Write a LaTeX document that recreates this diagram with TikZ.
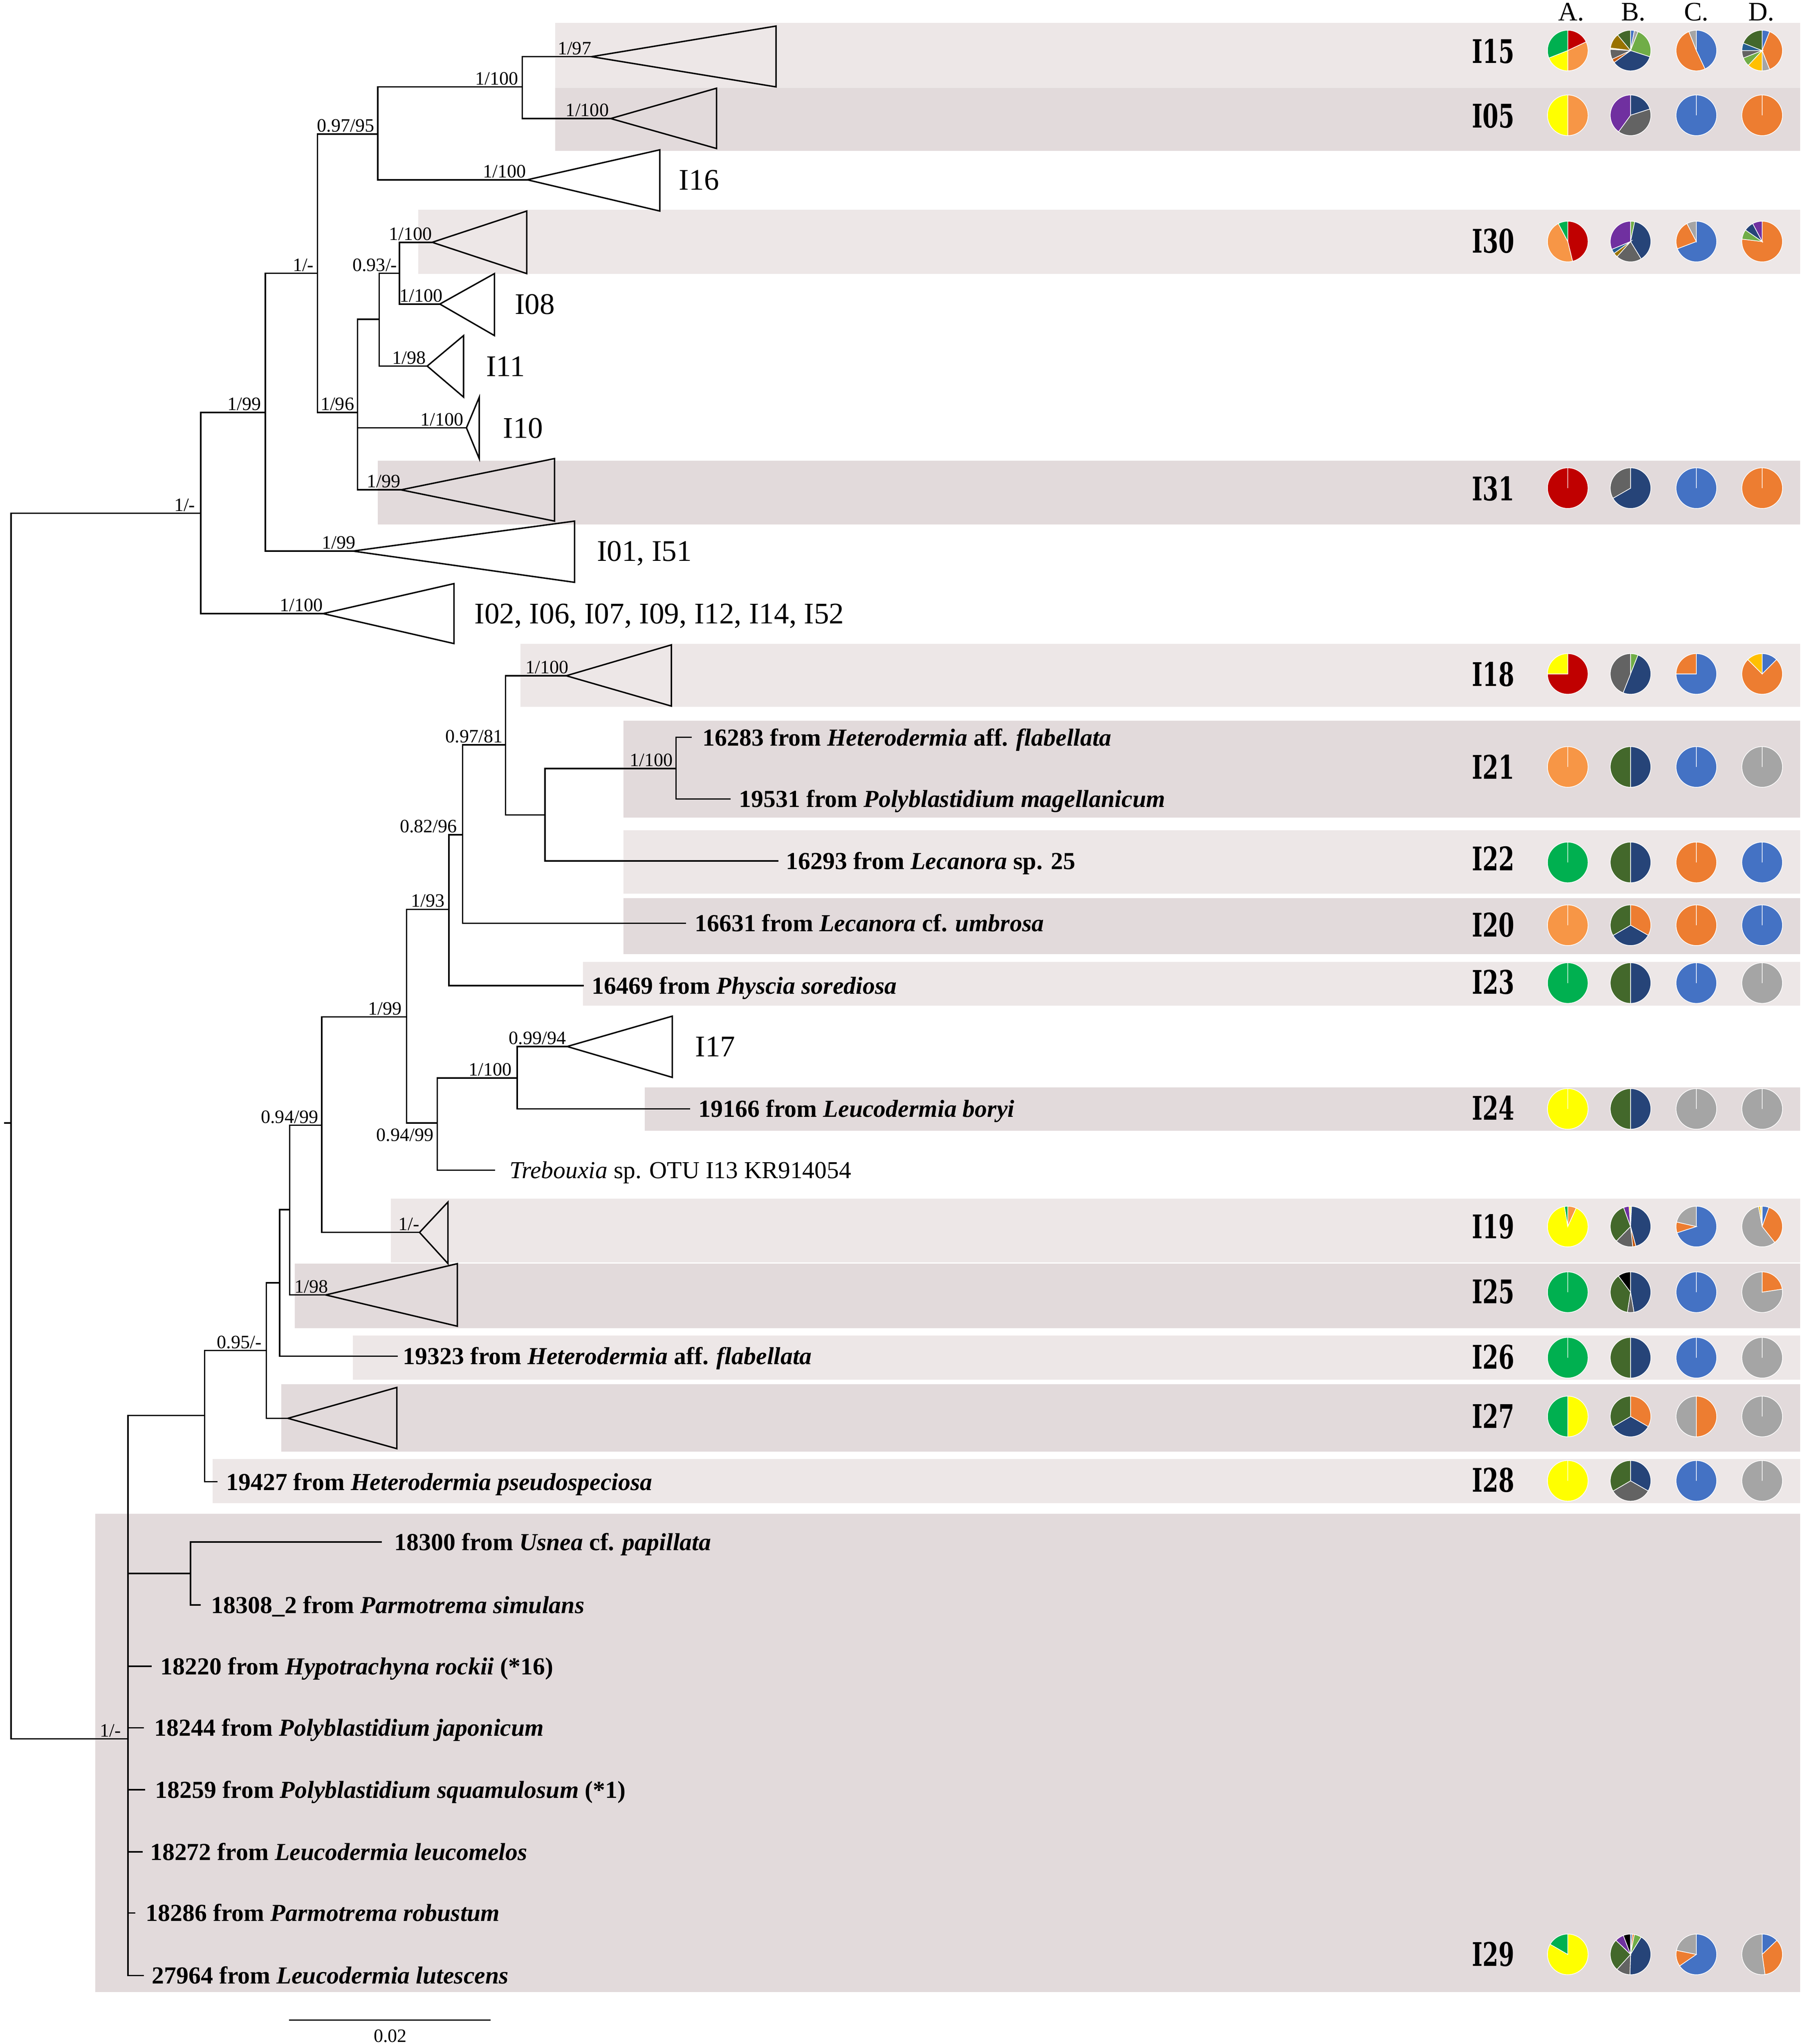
\documentclass[tikz,border=0pt]{standalone}
\usepackage{fontspec}
\usepackage{graphicx}
\setmainfont{Liberation Serif}
\newfontfamily\lblfont{DejaVu Serif}
\definecolor{bandL}{HTML}{EDE7E7}
\definecolor{bandD}{HTML}{E2DADB}
\definecolor{cRed}{HTML}{C00000}
\definecolor{cLOr}{HTML}{F79646}
\definecolor{cOr}{HTML}{ED7D31}
\definecolor{cGrn}{HTML}{00B050}
\definecolor{cYel}{HTML}{FFFF00}
\definecolor{cDBl}{HTML}{264478}
\definecolor{cBl}{HTML}{4472C4}
\definecolor{cGry}{HTML}{A5A5A5}
\definecolor{cDGy}{HTML}{636363}
\definecolor{cDGn}{HTML}{43682B}
\definecolor{cLGn}{HTML}{70AD47}
\definecolor{cPur}{HTML}{7030A0}
\definecolor{cOlv}{HTML}{997300}
\definecolor{cBrn}{HTML}{C55A11}
\definecolor{cTeal}{HTML}{255E91}
\definecolor{cGold}{HTML}{FFC000}
\definecolor{cBlk}{HTML}{000000}
\definecolor{cPale}{HTML}{FFE699}
\tikzset{
  br/.style={line width=1.1pt, line join=miter},
  sup/.style={inner sep=0pt, font=\fontsize{14.5}{14.5}\selectfont, text height=9.9pt, text depth=0pt},
  tip/.style={anchor=west, inner sep=0pt, font=\bfseries\fontsize{18.8}{18.8}\selectfont, text height=12.8pt, text depth=0pt},
  tipr/.style={anchor=west, inner sep=0pt, font=\fontsize{18.7}{18.7}\selectfont, text height=12.7pt, text depth=0pt},
  plain/.style={anchor=west, inner sep=0pt, font=\fontsize{23}{23}\selectfont, text height=15.6pt, text depth=0pt},
  grp/.style={inner sep=0pt, font=\lblfont\bfseries\fontsize{25}{25}\selectfont, text height=18.2pt, text depth=0pt},
  hdr/.style={anchor=base, inner sep=0pt, font=\fontsize{20.5}{20.5}\selectfont},
  slice/.style={draw=white, line width=0.5pt}
}
\newcommand{\clade}[4]{\draw[br] (#1) -- (#2,#3) -- (#2,#4) -- cycle;}
\newcommand{\sv}[4]{\node[sup, anchor=south east] (#1) at (#3,#4) {#2};}
\newcommand{\pie}[3]{%
  \begin{scope}[shift={(#1,#2)}, y=1pt]
    \gdef\cumang{90}%
    \foreach \pc/\pp in {#3}{%
      \pgfmathsetmacro\endang{\cumang-3.6*\pp}%
      \fill[fill=\pc, slice] (0,0) -- (\cumang:15.6) arc[start angle=\cumang, end angle=\endang, radius=15.6] -- cycle;
      \global\let\cumang\endang
    }
  \end{scope}}
\newcommand{\pierow}[5]{%
  \pie{1203.3}{#1}{#2}\pie{1251.5}{#1}{#3}\pie{1302}{#1}{#4}\pie{1352.5}{#1}{#5}}
\begin{document}
\begin{tikzpicture}[x=1pt,y=-1pt]
\useasboundingbox[fill=white] (0,0) rectangle (1383.6,1569);
% ---------- bands
\fill[bandL] (426,17.7) rectangle (1381.7,67.5);
\fill[bandD] (426,67.5) rectangle (1381.7,115.8);
\fill[bandL] (321,160.9) rectangle (1381.7,210.3);
\fill[bandD] (290,353.8) rectangle (1381.7,402.5);
\fill[bandL] (399.6,494.3) rectangle (1381.7,542.4);
\fill[bandD] (478.4,553.2) rectangle (1381.7,627.6);
\fill[bandL] (478.4,637.2) rectangle (1381.7,685.8);
\fill[bandD] (478.4,689.4) rectangle (1381.7,732.3);
\fill[bandL] (447.4,738.4) rectangle (1381.7,772);
\fill[bandD] (494.7,834.6) rectangle (1381.7,868);
\fill[bandL] (300,920) rectangle (1381.7,969.1);
\fill[bandD] (226.2,970) rectangle (1381.7,1019.6);
\fill[bandL] (270.8,1025.1) rectangle (1381.7,1059);
\fill[bandD] (216,1062.5) rectangle (1381.7,1114.3);
\fill[bandL] (163.3,1119.8) rectangle (1381.7,1153.7);
\fill[bandD] (73,1162) rectangle (1381.7,1529);
% ---------- tree coordinates (upper)
\coordinate (R) at (8.5,862);
\coordinate (Rs) at (3,862);
\coordinate (N1) at (154,394);
\coordinate (N2) at (203.7,316.6);
\coordinate (N3) at (243.7,209.8);
\coordinate (N4) at (290,103);
\coordinate (N5) at (274.4,316.6);
\coordinate (N6) at (291,245);
\coordinate (N7) at (400.8,66.7);
\coordinate (N8) at (306.5,209.8);
\coordinate (a15) at (454,43.5);
\coordinate (a05) at (468.7,91);
\coordinate (a16) at (404.7,138);
\coordinate (a30) at (331.7,186);
\coordinate (a08) at (337.6,233.4);
\coordinate (a11) at (327.9,281);
\coordinate (a10) at (358,328.4);
\coordinate (a31) at (307.7,376);
\coordinate (a01) at (270.8,423);
\coordinate (a02) at (248,471);
% lower
\coordinate (N20) at (98.2,1334.8);
\coordinate (N21) at (157,1086.5);
\coordinate (N22) at (146.3,1207.8);
\coordinate (N23) at (204.5,1036.7);
\coordinate (N24) at (214.6,984.7);
\coordinate (N25) at (222.3,928.6);
\coordinate (N26) at (247,863.7);
\coordinate (N27) at (312,780.6);
\coordinate (N28) at (344.5,698);
\coordinate (N29) at (335.6,862);
\coordinate (N30) at (397,827.4);
\coordinate (N31) at (355,640.7);
\coordinate (N32) at (388,571.8);
\coordinate (N33) at (418.3,625.5);
\coordinate (N34) at (518.8,590);
\coordinate (a18) at (434.6,518.7);
\coordinate (a17) at (435.3,803.3);
\coordinate (a19) at (322,946);
\coordinate (a25) at (250,994);
\coordinate (a27) at (221,1088.7);
\coordinate (t16283) at (530.8,566);
\coordinate (t19531) at (560.7,613.3);
\coordinate (t16293) at (597.5,660.8);
\coordinate (t16631) at (526.5,708.7);
\coordinate (t16469) at (448,756.5);
\coordinate (t19166) at (529.6,851.1);
\coordinate (tTreb) at (380,898.3);
\coordinate (t19323) at (305.4,1041);
\coordinate (t19427) at (167,1137.4);
\coordinate (t18300) at (293,1183.6);
\coordinate (t18308) at (154,1232);
\coordinate (t18220) at (116.4,1279);
\coordinate (t18244) at (110.6,1326.2);
\coordinate (t18259) at (111.4,1373.8);
\coordinate (t18272) at (109.4,1421.5);
\coordinate (t18286) at (104,1468.4);
\coordinate (t27964) at (110.6,1516.4);
% ---------- branches
\draw[br] (R) -- (Rs);
\draw[br] (R) |- (N1);
\draw[br] (R) |- (N20);
\draw[br] (N1) |- (N2);
\draw[br] (N1) |- (a02);
\draw[br] (N2) |- (N3);
\draw[br] (N2) |- (a01);
\draw[br] (N3) |- (N4);
\draw[br] (N3) |- (N5);
\draw[br] (N4) |- (N7);
\draw[br] (N4) |- (a16);
\draw[br] (N7) |- (a15);
\draw[br] (N7) |- (a05);
\draw[br] (N5) |- (N6);
\draw[br] (N5) |- (a10);
\draw[br] (N5) |- (a31);
\draw[br] (N6) |- (N8);
\draw[br] (N6) |- (a11);
\draw[br] (N8) |- (a30);
\draw[br] (N8) |- (a08);
\draw[br] (N20) |- (N21);
\draw[br] (N20) |- (N22);
\draw[br] (N20) |- (t18220);
\draw[br] (N20) |- (t18244);
\draw[br] (N20) |- (t18259);
\draw[br] (N20) |- (t18272);
\draw[br] (N20) |- (t18286);
\draw[br] (N20) |- (t27964);
\draw[br] (N22) |- (t18300);
\draw[br] (N22) |- (t18308);
\draw[br] (N21) |- (N23);
\draw[br] (N21) |- (t19427);
\draw[br] (N23) |- (N24);
\draw[br] (N23) |- (a27);
\draw[br] (N24) |- (N25);
\draw[br] (N24) |- (t19323);
\draw[br] (N25) |- (N26);
\draw[br] (N25) |- (a25);
\draw[br] (N26) |- (N27);
\draw[br] (N26) |- (a19);
\draw[br] (N27) |- (N28);
\draw[br] (N27) |- (N29);
\draw[br] (N29) |- (N30);
\draw[br] (N29) |- (tTreb);
\draw[br] (N30) |- (a17);
\draw[br] (N30) |- (t19166);
\draw[br] (N28) |- (N31);
\draw[br] (N28) |- (t16469);
\draw[br] (N31) |- (N32);
\draw[br] (N31) |- (t16631);
\draw[br] (N32) |- (a18);
\draw[br] (N32) |- (N33);
\draw[br] (N33) |- (N34);
\draw[br] (N33) |- (t16293);
\draw[br] (N34) |- (t16283);
\draw[br] (N34) |- (t19531);
% ---------- collapsed clades
\clade{a15}{595.6}{20}{66.7}
\clade{a05}{550}{67.7}{114}
\clade{a16}{506.4}{115}{162}
\clade{a30}{404.3}{162}{210}
\clade{a08}{379.5}{210}{257.6}
\clade{a11}{355.8}{257.6}{304.8}
\clade{a10}{367.8}{305}{352}
\clade{a31}{425.6}{352}{400}
\clade{a01}{441}{400}{447}
\clade{a02}{348.4}{448}{494}
\clade{a18}{515.3}{495}{542}
\clade{a17}{516}{780}{827}
\clade{a19}{343.8}{922.7}{969.9}
\clade{a25}{351}{970}{1018}
\clade{a27}{304.6}{1065}{1112}
% ---------- support values
\sv{s1}{1/-}{150}{392.5}
\sv{s2}{1/99}{200.5}{315.1}
\sv{s3}{1/100}{248}{469.5}
\sv{s4}{1/-}{241}{208.3}
\sv{s5}{1/99}{273}{421.5}
\sv{s6}{0.97/95}{287.5}{101.5}
\sv{s7}{1/96}{272}{315.1}
\sv{s8}{1/100}{398}{65.2}
\sv{s9}{1/100}{404}{136.5}
\sv{s10}{1/97}{454}{42}
\sv{s11}{1/100}{467.5}{89.5}
\sv{s12}{1/100}{356}{326.9}
\sv{s13}{1/99}{307.7}{374.5}
\sv{s14}{0.93/-}{305}{208.3}
\sv{s15}{1/98}{327}{279.5}
\sv{s16}{1/100}{331.7}{184.5}
\sv{s17}{1/100}{340}{231.9}
\sv{s18}{1/100}{436.5}{517.2}
\sv{s19}{0.97/81}{386}{570.3}
\sv{s20}{1/100}{516.5}{588.5}
\sv{s21}{0.82/96}{351}{639.2}
\sv{s22}{1/93}{341.4}{696.5}
\sv{s23}{1/99}{308.5}{779.1}
\sv{s24}{1/100}{393}{825.9}
\sv{s25}{0.99/94}{434.6}{801.8}
\node[sup, anchor=north east] (s26) at (333,866) {0.94/99};
\sv{s27}{1/-}{322}{944.5}
\sv{s28}{0.94/99}{244.4}{862.2}
\sv{s29}{1/98}{252}{992.5}
\sv{s30}{0.95/-}{201}{1035.2}
\sv{s31}{1/-}{93}{1333.3}
% ---------- clade names (plain)
\node[plain] (lI16) at (521,138) {I16};
\node[plain] (lI08) at (395,233.4) {I08};
\node[plain] (lI11) at (373,281) {I11};
\node[plain] (lI10) at (386,328.4) {I10};
\node[plain] (lI01) at (458,423) {I01, I51};
\node[plain] (lI02) at (364,471) {I02, I06, I07, I09, I12, I14, I52};
\node[plain] (lI17) at (533.5,803.3) {I17};
% ---------- tip labels
\node[tip] (L16283) at (539,566) {16283 from \textit{Heterodermia} aff. \textit{flabellata}};
\node[tip] (L19531) at (567,613.3) {19531 from \textit{Polyblastidium magellanicum}};
\node[tip] (L16293) at (603,660.8) {16293 from \textit{Lecanora} sp. 25};
\node[tip] (L16631) at (533,708.7) {16631 from \textit{Lecanora} cf. \textit{umbrosa}};
\node[tip] (L16469) at (454,756.5) {16469 from \textit{Physcia sorediosa}};
\node[tip] (L19166) at (536,851.1) {19166 from \textit{Leucodermia boryi}};
\node[tipr] (LTreb) at (391,898.3) {\textit{Trebouxia} sp. OTU I13 KR914054};
\node[tip] (L19323) at (309,1041) {19323 from \textit{Heterodermia} aff. \textit{flabellata}};
\node[tip] (L19427) at (173.4,1137.4) {19427 from \textit{Heterodermia pseudospeciosa}};
\node[tip] (L18300) at (302.6,1183.6) {18300 from \textit{Usnea} cf. \textit{papillata}};
\node[tip] (L18308) at (162,1232) {18308\_2 from \textit{Parmotrema simulans}};
\node[tip] (L18220) at (123,1279) {18220 from \textit{Hypotrachyna rockii} (*16)};
\node[tip] (L18244) at (118.3,1326.2) {18244 from \textit{Polyblastidium japonicum}};
\node[tip] (L18259) at (119,1373.8) {18259 from \textit{Polyblastidium squamulosum} (*1)};
\node[tip] (L18272) at (115,1421.5) {18272 from \textit{Leucodermia leucomelos}};
\node[tip] (L18286) at (111.7,1468.4) {18286 from \textit{Parmotrema robustum}};
\node[tip] (L27964) at (116.4,1516.4) {27964 from \textit{Leucodermia lutescens}};
% ---------- headers
\node[hdr] (hA) at (1206,15.8) {A.};
\node[hdr] (hB) at (1253.7,15.8) {B.};
\node[hdr] (hC) at (1302,15.8) {C.};
\node[hdr] (hD) at (1352,15.8) {D.};
% ---------- group labels
\node[grp] (g15) at (1146,39.5) {\scalebox{0.7}[1]{I15}};
\node[grp] (g05) at (1146,89) {\scalebox{0.7}[1]{I05}};
\node[grp] (g30) at (1146,185) {\scalebox{0.7}[1]{I30}};
\node[grp] (g31) at (1146,375) {\scalebox{0.7}[1]{I31}};
\node[grp] (g18) at (1146,517.6) {\scalebox{0.7}[1]{I18}};
\node[grp] (g21) at (1146,588.7) {\scalebox{0.7}[1]{I21}};
\node[grp] (g22) at (1146,659) {\scalebox{0.7}[1]{I22}};
\node[grp] (g20) at (1146,710) {\scalebox{0.7}[1]{I20}};
\node[grp] (g23) at (1146,754) {\scalebox{0.7}[1]{I23}};
\node[grp] (g24) at (1146,850.5) {\scalebox{0.7}[1]{I24}};
\node[grp] (g19) at (1146,941.5) {\scalebox{0.7}[1]{I19}};
\node[grp] (g25) at (1146,991.5) {\scalebox{0.7}[1]{I25}};
\node[grp] (g26) at (1146,1041.5) {\scalebox{0.7}[1]{I26}};
\node[grp] (g27) at (1146,1087) {\scalebox{0.7}[1]{I27}};
\node[grp] (g28) at (1146,1136) {\scalebox{0.7}[1]{I28}};
\node[grp] (g29) at (1146,1500) {\scalebox{0.7}[1]{I29}};
% ---------- pies
\pierow{38.8}{cRed/18,cLOr/32,cYel/19,cGrn/31}{cBl/3,cGry/3,cLGn/24,cDBl/35,cBrn/3,cDGy/8,cPale/1,cOlv/12,cDGn/11}{cBl/43,cOr/51,cGry/6}{cBl/6,cOr/38,cGry/6,cGold/12,cLGn/7,cDGy/6,cTeal/6,cDGn/19}
\pierow{88.5}{cLOr/50,cYel/50}{cDBl/20,cDGy/40,cPur/40}{cBl/100}{cOr/100}
\pierow{185.4}{cRed/46.2,cLOr/46.1,cGrn/7.7}{cLGn/3.3,cDBl/38,cDGy/20.3,cOlv/3.5,cTeal/3.6,cPur/31.3}{cBl/69.2,cOr/23.1,cGry/7.7}{cOr/76.9,cLGn/7.7,cDBl/7.7,cPur/7.7}
\pierow{374.7}{cRed/100}{cDBl/66.7,cDGy/33.3}{cBl/100}{cOr/100}
\pierow{517.3}{cRed/75,cYel/25}{cLGn/6,cDBl/50,cDGy/44}{cBl/75,cOr/25}{cBl/12.5,cOr/75,cGold/12.5}
\pierow{588.7}{cLOr/100}{cDBl/50,cDGn/50}{cBl/100}{cGry/100}
\pierow{662}{cGrn/100}{cDBl/50,cDGn/50}{cOr/100}{cBl/100}
\pierow{710.2}{cLOr/100}{cOr/33.3,cDBl/33.3,cDGn/33.4}{cOr/100}{cBl/100}
\pierow{754.6}{cGrn/100}{cDBl/50,cDGn/50}{cBl/100}{cGry/100}
\pierow{851.2}{cYel/100}{cDBl/50,cDGn/50}{cGry/100}{cGry/100}
\pierow{941.5}{cLOr/6.8,cYel/90.6,cGrn/2.6}{cGry/0.8,cDBl/45,cBrn/2.5,cDGy/14,cDGn/32.1,cPur/4.4,cYel/1.2}{cBl/70,cOr/8.6,cGry/21.4}{cBl/5.4,cOr/34,cGry/57.7,cGold/1.5,cPale/1.4}
\pierow{991.9}{cGrn/100}{cDBl/47.3,cDGy/5.2,cDGn/37.3,cBlk/10.2}{cBl/100}{cOr/22.6,cGry/77.4}
\pierow{1042.2}{cGrn/100}{cDBl/50,cDGn/50}{cBl/100}{cGry/100}
\pierow{1087.3}{cYel/50,cGrn/50}{cOr/33.3,cDBl/33.3,cDGn/33.4}{cOr/50,cGry/50}{cGry/100}
\pierow{1136.7}{cYel/100}{cDBl/33.3,cDGy/33.3,cDGn/33.4}{cBl/100}{cGry/100}
\pierow{1500.2}{cYel/83.3,cGrn/16.7}{cBl/1.4,cOr/1.6,cLGn/5.8,cDBl/41.7,cDGy/11.2,cDGn/25.5,cPur/7,cBlk/5.8}{cBl/65.4,cOr/12.8,cGry/21.8}{cBl/12.9,cOr/34.9,cGry/52.2}
% ---------- scale bar
\coordinate (sb1) at (222,1550.7);
\coordinate (sb2) at (376.4,1550.7);
\draw[br] (sb1) -- (sb2);
\node[sup, anchor=north] (sbl) at (299.5,1557.5) {0.02};
\end{tikzpicture}
\end{document}
